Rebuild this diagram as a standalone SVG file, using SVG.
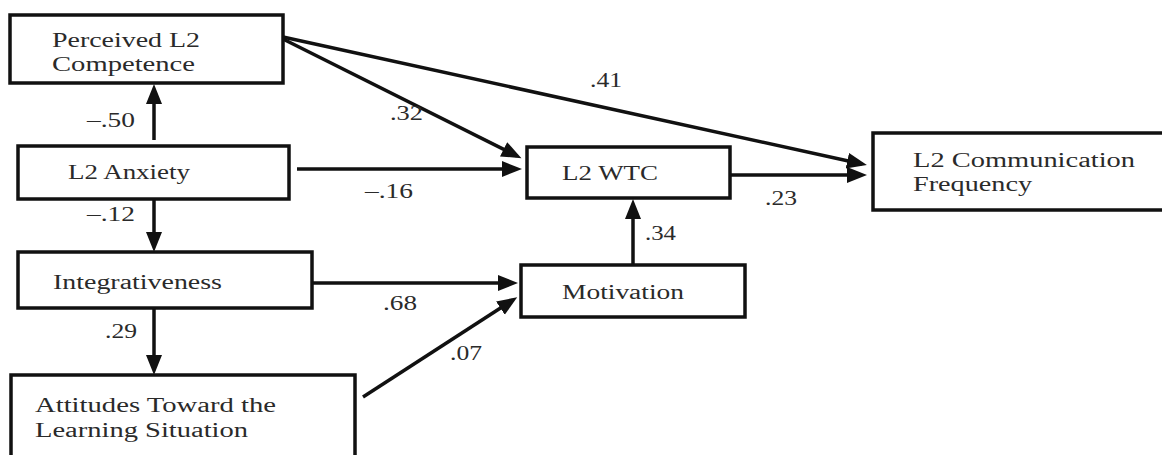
<svg xmlns="http://www.w3.org/2000/svg" width="1162" height="455" viewBox="0 0 1162 455">
<style>
.box{fill:#fff;stroke:#111;stroke-width:3.5}
.t{font-family:"Liberation Serif","Times New Roman",serif;font-size:20px;fill:#2a2a2a}
.c{stroke:#111;stroke-width:3.5;fill:none;marker-end:url(#ah)}
</style>
<defs>
<marker id="ah" markerUnits="userSpaceOnUse" markerWidth="21" markerHeight="17" refX="15" refY="8" orient="auto">
<path d="M0,0 L20,8 L0,16 z" fill="#111"/>
</marker>
</defs>
<rect width="1162" height="455" fill="#fff"/>
<g id="connectors">
<line class="c" x1="154" y1="140" x2="154" y2="89"/>
<line class="c" x1="154" y1="199" x2="154" y2="247"/>
<line class="c" x1="154" y1="308" x2="154" y2="370"/>
<line class="c" x1="283" y1="39" x2="517" y2="156"/>
<line class="c" x1="283" y1="37" x2="862" y2="164"/>
<line class="c" x1="297" y1="169" x2="517" y2="169"/>
<line class="c" x1="730" y1="175" x2="862" y2="175"/>
<line class="c" x1="633" y1="265" x2="633" y2="204"/>
<line class="c" x1="312" y1="283" x2="513" y2="283"/>
<line class="c" x1="363" y1="397" x2="513" y2="300"/>
</g>
<g id="labels">
<text class="t" x="87" y="127" textLength="48" lengthAdjust="spacingAndGlyphs">–.50</text>
<text class="t" x="87" y="221" textLength="48" lengthAdjust="spacingAndGlyphs">–.12</text>
<text class="t" x="105" y="338" textLength="32" lengthAdjust="spacingAndGlyphs">.29</text>
<text class="t" x="390" y="120" textLength="33" lengthAdjust="spacingAndGlyphs">.32</text>
<text class="t" x="590" y="87" textLength="32" lengthAdjust="spacingAndGlyphs">.41</text>
<text class="t" x="365" y="198" textLength="48" lengthAdjust="spacingAndGlyphs">–.16</text>
<text class="t" x="765" y="205" textLength="32" lengthAdjust="spacingAndGlyphs">.23</text>
<text class="t" x="645" y="240" textLength="31" lengthAdjust="spacingAndGlyphs">.34</text>
<text class="t" x="383" y="310" textLength="34" lengthAdjust="spacingAndGlyphs">.68</text>
<text class="t" x="450" y="360" textLength="32" lengthAdjust="spacingAndGlyphs">.07</text>
</g>
<g id="perceived">
<rect class="box" x="10" y="15" width="273" height="68"/>
<text class="t" x="52" y="47" textLength="148" lengthAdjust="spacingAndGlyphs">Perceived L2</text>
<text class="t" x="52" y="71" textLength="143" lengthAdjust="spacingAndGlyphs">Competence</text>
</g>
<g id="anxiety">
<rect class="box" x="18" y="146" width="271" height="53"/>
<text class="t" x="68" y="179" textLength="122" lengthAdjust="spacingAndGlyphs">L2 Anxiety</text>
</g>
<g id="integrativeness">
<rect class="box" x="18" y="252" width="294" height="56"/>
<text class="t" x="53" y="289" textLength="169" lengthAdjust="spacingAndGlyphs">Integrativeness</text>
</g>
<g id="attitudes">
<rect class="box" x="11" y="375" width="344" height="100"/>
<text class="t" x="35" y="412" textLength="241" lengthAdjust="spacingAndGlyphs">Attitudes Toward the</text>
<text class="t" x="35" y="437" textLength="213" lengthAdjust="spacingAndGlyphs">Learning Situation</text>
</g>
<g id="wtc">
<rect class="box" x="527" y="147" width="203" height="51"/>
<text class="t" x="562" y="180" textLength="96" lengthAdjust="spacingAndGlyphs">L2 WTC</text>
</g>
<g id="motivation">
<rect class="box" x="521" y="265" width="224" height="52"/>
<text class="t" x="562" y="299" textLength="122" lengthAdjust="spacingAndGlyphs">Motivation</text>
</g>
<g id="frequency">
<rect class="box" x="873" y="133" width="300" height="77"/>
<text class="t" x="913" y="167" textLength="222" lengthAdjust="spacingAndGlyphs">L2 Communication</text>
<text class="t" x="913" y="191" textLength="119" lengthAdjust="spacingAndGlyphs">Frequency</text>
</g>
</svg>
